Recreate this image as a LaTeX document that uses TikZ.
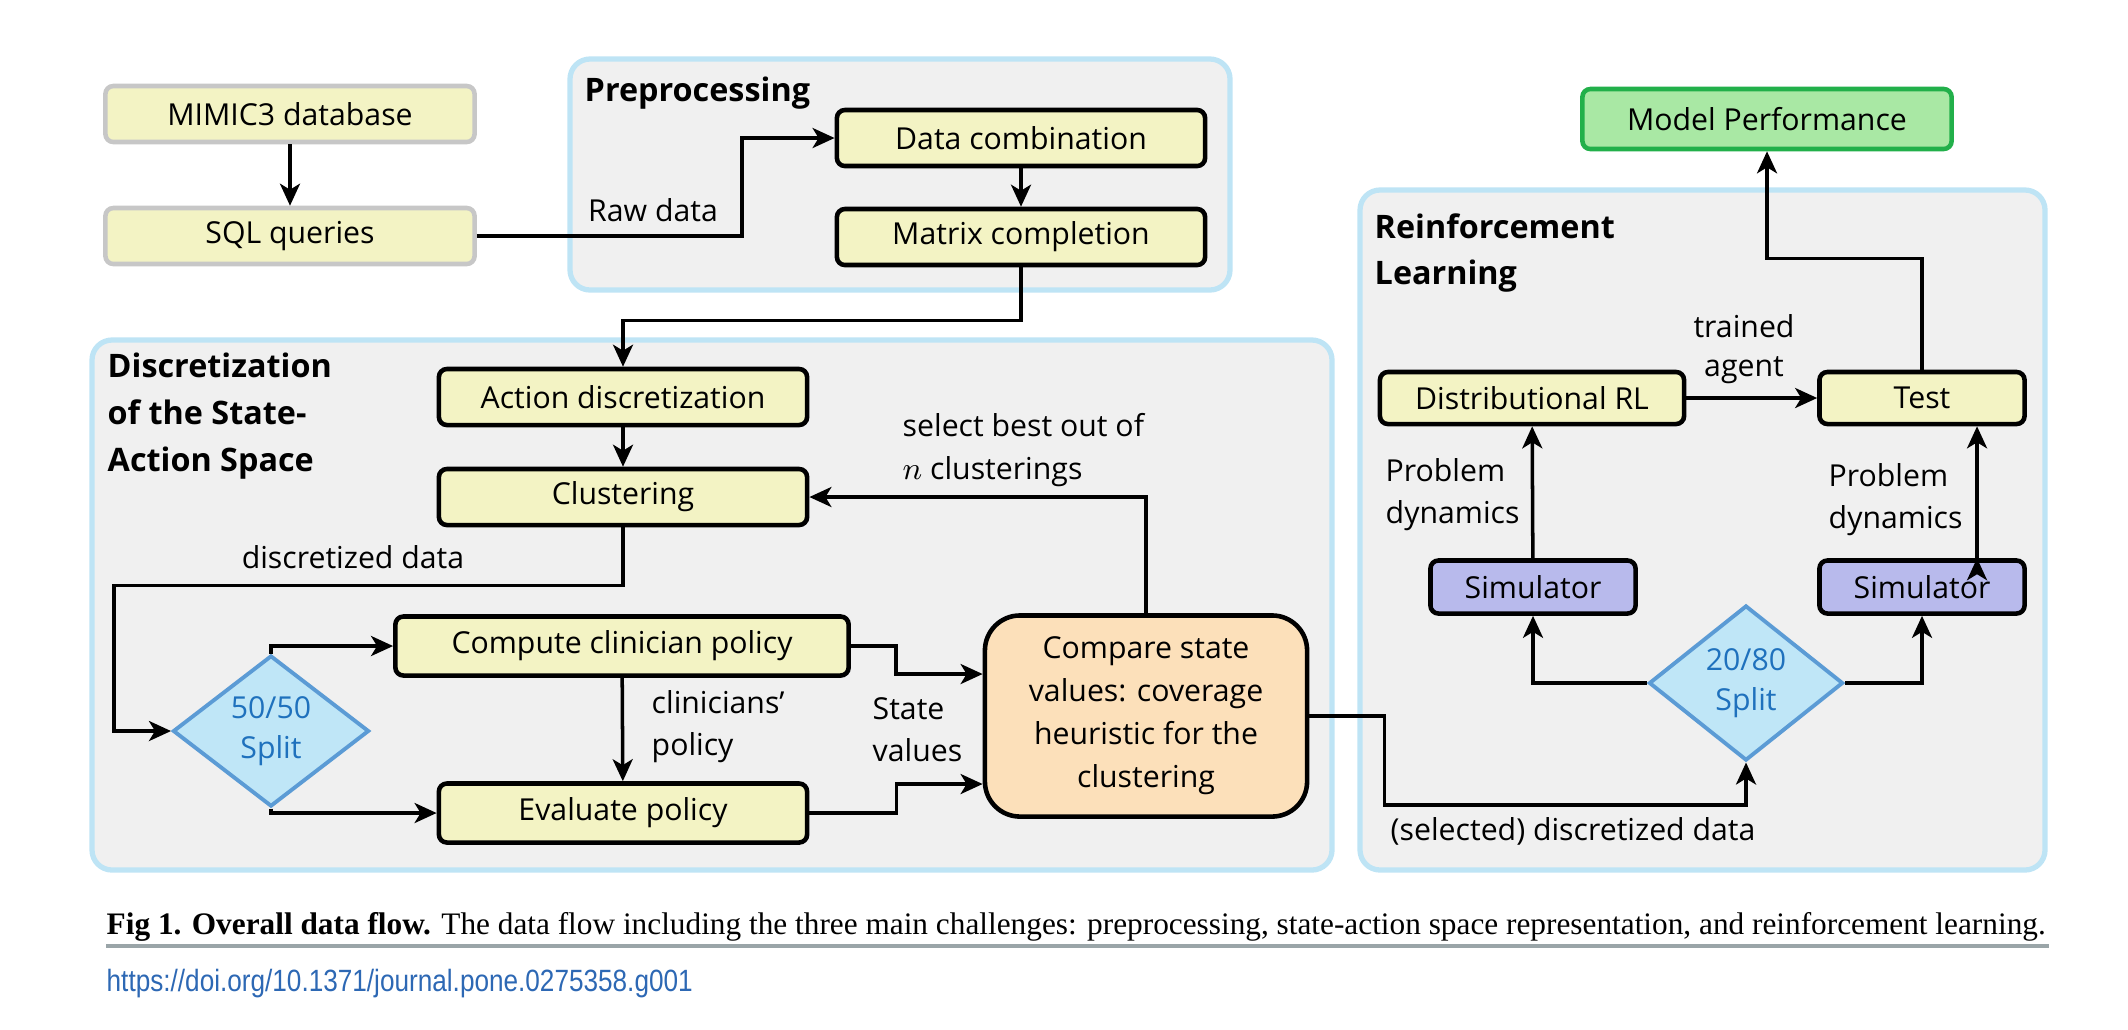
\documentclass[tikz,border=0pt]{standalone}
\usepackage{fontspec}
\setmainfont{Open Sans}
\newfontfamily\capfont{Liberation Serif}
\newfontfamily\doifont[FakeStretch=0.85]{Liberation Sans}
\usetikzlibrary{shapes.geometric,arrows.meta,calc}

\definecolor{boxyellow}{RGB}{243,243,196}
\definecolor{groupfill}{RGB}{240,240,240}
\definecolor{groupline}{RGB}{190,228,245}
\definecolor{comparefill}{RGB}{252,224,186}
\definecolor{perffill}{RGB}{169,232,164}
\definecolor{perfline}{RGB}{34,176,74}
\definecolor{simfill}{RGB}{184,186,236}
\definecolor{splitfill}{RGB}{191,230,247}
\definecolor{splitline}{RGB}{91,155,213}
\definecolor{splittext}{RGB}{31,113,189}
\definecolor{doiblue}{RGB}{45,104,180}
\definecolor{rulegray}{RGB}{154,165,168}

\begin{document}
\begin{tikzpicture}[x=0.01cm, y=-0.01cm,
    font=\fontsize{8.6}{12}\selectfont,
    box/.style={shape=rectangle, rounded corners=0.08cm, draw=black,
      line width=1.3pt, fill=boxyellow, minimum height=0.56cm, inner sep=0pt},
    srcbox/.style={box, draw=black!22},
    simbox/.style={box, fill=simfill, minimum width=2.05cm, minimum height=0.53cm},
    splitbox/.style={shape=diamond, draw=splitline, line width=1.1pt, fill=splitfill,
      text=splittext, align=center, inner sep=0pt, font=\fontsize{8.6}{11.5}\selectfont},
    group/.style={draw=groupline, line width=1.5pt, fill=groupfill, rounded corners=0.2cm},
    title/.style={anchor=west, align=left, inner sep=0pt, font=\fontsize{9.2}{13.3}\selectfont\bfseries},
    lbl/.style={align=left, inner sep=0pt},
    arr/.style={-{Stealth[length=0.22cm, width=0.2cm, inset=0.06cm]}, line width=1pt}]
\useasboundingbox (0,0) rectangle (2128,1029);

% the three stages
\draw[group] (570,59) rectangle (1230,290);
\draw[group] (92,340) rectangle (1332,870);
\draw[group] (1360,190) rectangle (2045,870);

\node[title] at (584,93) (preptitle) {Preprocessing};
\node[title] at (107,416) (disctitle) {Discretization\\of the State-\\Action Space};
\node[title] at (1374,253) (rltitle) {Reinforcement\\Learning};

% preprocessing
\node[srcbox, minimum width=3.69cm] at (290,114)
(mimic) {MIMIC3 database};
\node[srcbox, minimum width=3.69cm] at (290,236)
(sql) {SQL queries};
\node[box, minimum width=3.68cm] at (1021,138)
(datacomb) {Data combination};
\node[box, minimum width=3.68cm] at (1021,237)
(matrix) {Matrix completion};

% state-action space
\node[box, minimum width=3.68cm] at (623,397)
(actdisc) {Action discretization};
\node[box, minimum width=3.68cm] at (623,497)
(clust) {Clustering};
\node[box, minimum width=4.53cm, minimum height=0.59cm] at (622,646)
(compute) {Compute clinician policy};
\node[box, minimum width=3.68cm, minimum height=0.59cm] at (623,813)
(evalpol) {Evaluate policy};
\node[splitbox, minimum width=1.96cm, minimum height=1.51cm] at (271,731)
(split1) {50/50\\Split};
\node[box, fill=comparefill, rounded corners=0.35cm, align=center,
  minimum width=3.22cm, minimum height=2.01cm,
  font=\fontsize{8.6}{12.2}\selectfont] at (1146,716)
(compare) {Compare state\\values: coverage\\heuristic for the\\clustering};

% reinforcement learning
\node[box, fill=perffill, draw=perfline, minimum width=3.69cm, minimum height=0.6cm] at (1767,119)
(perf) {Model Performance};
\node[box, minimum width=3.04cm, minimum height=0.52cm] at (1532,398)
(distrl) {Distributional RL};
\node[box, minimum width=2.05cm, minimum height=0.52cm] at (1922,398)
(test) {Test};
\node[simbox] at (1533,587)
(simL) {Simulator};
\node[simbox] at (1922,587)
(simR) {Simulator};
\node[splitbox, minimum width=1.94cm, minimum height=1.55cm] at (1746,683)
(split2) {20/80\\Split};

% labels
\node[lbl] at (653,210) (rawlbl) {Raw data};
\node[lbl, anchor=west] at (902,450) (bestlbl) {select best out of\\$n$ clusterings};
\node[lbl] at (353,557) (disclbl) {discretized data};
\node[lbl, anchor=west] at (651,727) (cliniclbl) {clinicians’\\policy};
\node[lbl, anchor=west] at (872,730) (statelbl) {State\\values};
\node[lbl, align=center, font=\fontsize{8.6}{11}\selectfont] at (1744,349) (agentlbl) {trained\\agent};
\node[lbl, anchor=west] at (1385,495) (dynlblL) {Problem\\dynamics};
\node[lbl, anchor=west] at (1828,500) (dynlblR) {Problem\\dynamics};
\node[lbl, anchor=west] at (1390,831) (sellbl) {(selected) discretized data};

\draw[arr]
  (mimic)    edge (sql)
  (datacomb) edge (matrix)
  (actdisc)  edge (clust)
  (compute)  edge (evalpol)
  (simL)     edge (distrl)
  (distrl)   edge (test)
  ([xshift=0.55cm]simR.north) edge ([xshift=0.55cm]test.south)
;
\draw[arr] (sql.east) -- ++(265,0) |- (datacomb.west);
\draw[arr] (matrix.south) -- ++(0,53) -| (actdisc.north);
\draw[arr] (clust.south) -- ++(0,58) -| ($(split1.west)+(-57,0)$) -- (split1.west);
\draw[arr] (split1.north) |- (compute.west);
\draw[arr] (split1.south) |- (evalpol.west);
\draw[arr] (compute.east) -- ++(45,0) |- ($(compare.west)+(0,-42)$);
\draw[arr] (evalpol.east) -- ++(87,0) |- ($(compare.west)+(0,68)$);
\draw[arr] (compare.north) |- (clust.east);
\draw[arr] (compare.east) -- ++(75,0) -- ++(0,89) -| (split2.south);
\draw[arr] (split2.west) -| (simL.south);
\draw[arr] (split2.east) -| (simR.south);
\draw[arr] (test.north) -- ++(0,-111) -| (perf.south);

% caption
\node[anchor=west, inner sep=0pt, font=\capfont\fontsize{8.9}{10}\selectfont] at (106,927)
(caption) {\textbf{Fig 1. Overall data flow.} The data flow including the three main challenges: preprocessing, state-action space representation, and reinforcement learning.};
\draw[rulegray, line width=1.2pt] (106,946) -- (2049,946);
\node[anchor=west, inner sep=0pt, text=doiblue, font=\doifont\fontsize{8.75}{10}\selectfont] at (106,984)
(doi) {https://doi.org/10.1371/journal.pone.0275358.g001};
\end{tikzpicture}
\end{document}
